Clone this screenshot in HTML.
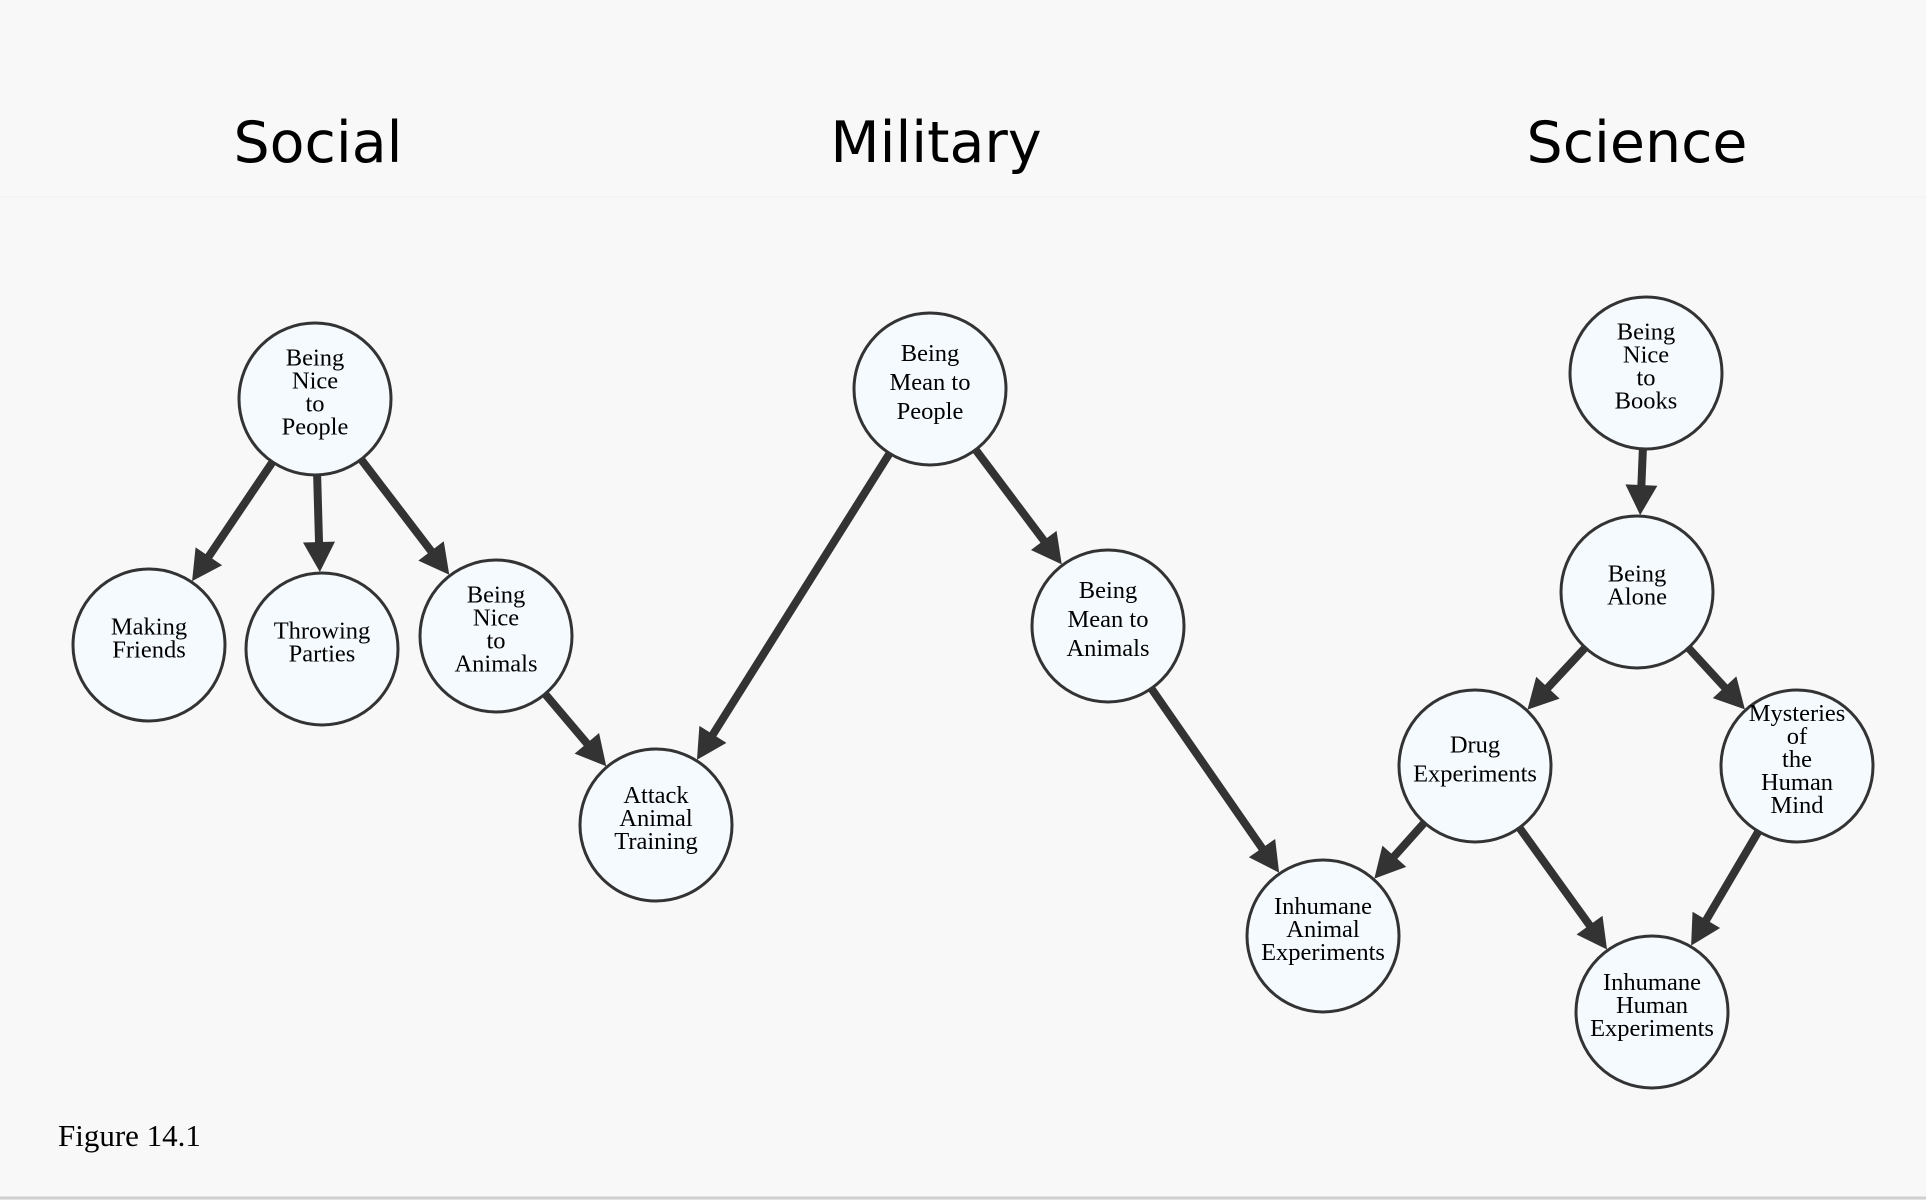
<!DOCTYPE html>
<html><head><meta charset="utf-8"><style>
html,body{margin:0;padding:0;background:#f8f8f8;width:1926px;height:1200px;overflow:hidden}
svg{display:block}
</style></head><body>
<svg id="s" width="1926" height="1200" xmlns="http://www.w3.org/2000/svg">
<rect x="0" y="0" width="1926" height="1200" fill="#f8f8f8"/>
<line x1="0" y1="197" x2="1926" y2="197" stroke="#f1f1f1" stroke-width="1"/>
<line x1="0" y1="1198" x2="1926" y2="1198" stroke="#d0d0d0" stroke-width="3"/>
<g font-family="DejaVu Sans, Liberation Sans, sans-serif" font-size="57" fill="#000" text-anchor="middle">
<text x="318" y="162">Social</text>
<text x="936" y="162">Military</text>
<text x="1637" y="162">Science</text>
</g>
<text x="58" y="1146" font-family="Liberation Serif, serif" font-size="31">Figure 14.1</text>
<g id="edges"></g>
<g id="nodes"></g>
</svg>
<script>
var N={
a:[315,399,["Being","Nice","to","People"],23],
b:[149,645,["Making","Friends"],23],
c:[322,649,["Throwing","Parties"],23],
d:[496,636,["Being","Nice","to","Animals"],23],
e:[656,825,["Attack","Animal","Training"],23],
f:[930,389,["Being","Mean to","People"],29],
g:[1108,626,["Being","Mean to","Animals"],29],
h:[1323,936,["Inhumane","Animal","Experiments"],23],
i:[1646,373,["Being","Nice","to","Books"],23],
j:[1637,592,["Being","Alone"],23],
k:[1475,766,["Drug","Experiments"],29],
l:[1797,766,["Mysteries","of","the","Human","Mind"],23],
m:[1652,1012,["Inhumane","Human","Experiments"],23]};
var E=[["a","b"],["a","c"],["a","d"],["d","e"],["f","e"],["f","g"],["g","h"],["i","j"],["j","k"],["j","l"],["k","h"],["k","m"],["l","m"]];
var R=76,ns="http://www.w3.org/2000/svg",eg=document.getElementById("edges"),ng=document.getElementById("nodes");
E.forEach(function(p){var A=N[p[0]],B=N[p[1]];var dx=B[0]-A[0],dy=B[1]-A[1],L=Math.hypot(dx,dy),ux=dx/L,uy=dy/L;
var sx=A[0]+ux*(R+1),sy=A[1]+uy*(R+1),tx=B[0]-ux*(R+1),ty=B[1]-uy*(R+1);var hl=30,hw=16;
var bx=tx-ux*hl,by=ty-uy*hl;
var l=document.createElementNS(ns,"line");l.setAttribute("x1",sx);l.setAttribute("y1",sy);l.setAttribute("x2",bx+ux*2);l.setAttribute("y2",by+uy*2);
l.setAttribute("stroke","#333");l.setAttribute("stroke-width","8");eg.appendChild(l);
var pg=document.createElementNS(ns,"polygon");pg.setAttribute("points",tx+","+ty+" "+(bx-uy*hw)+","+(by+ux*hw)+" "+(bx+uy*hw)+","+(by-ux*hw));
pg.setAttribute("fill","#333");eg.appendChild(pg);});
for(var k in N){var n=N[k];var c=document.createElementNS(ns,"circle");c.setAttribute("cx",n[0]);c.setAttribute("cy",n[1]);c.setAttribute("r",R);
c.setAttribute("fill","#f5faff");c.setAttribute("stroke","#333");c.setAttribute("stroke-width","3");ng.appendChild(c);
var lh=n[3],ls=n[2],y0=n[1]-(ls.length-1)*lh/2+1;
ls.forEach(function(s,idx){var t=document.createElementNS(ns,"text");t.setAttribute("x",n[0]);t.setAttribute("y",y0+idx*lh);
t.setAttribute("text-anchor","middle");t.setAttribute("font-family","Liberation Serif, serif");t.setAttribute("font-size","24.5");t.textContent=s;ng.appendChild(t);});}
</script>
</body></html>
